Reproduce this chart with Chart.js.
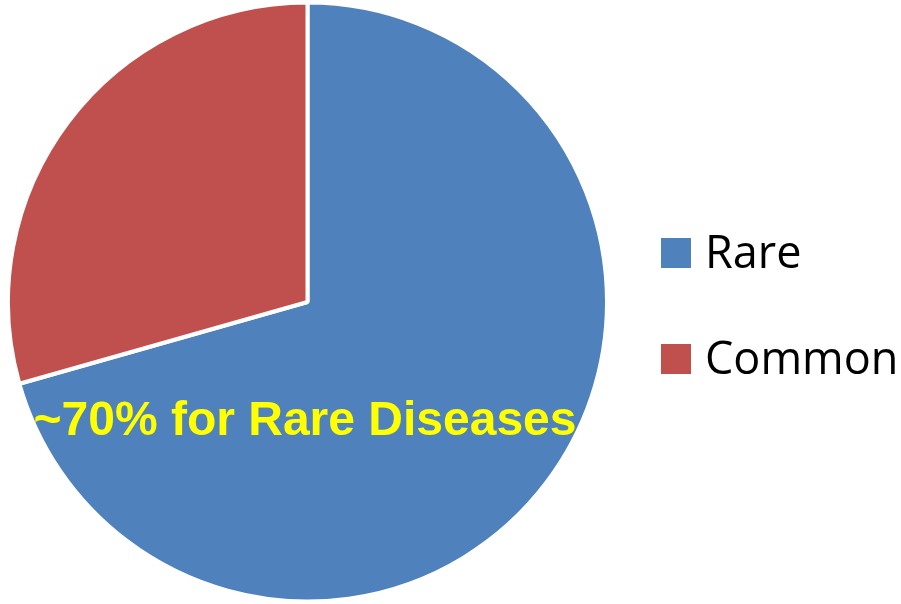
<!DOCTYPE html>
<html>
<head>
<meta charset="utf-8">
<script src="https://cdn.jsdelivr.net/npm/chart.js@4.4.1/dist/chart.umd.min.js"></script>
<style>
  html, body { margin: 0; padding: 0; background: #fff; }
  #wrap { width: 901px; height: 604px; }
</style>
</head>
<body>
<div id="wrap"><canvas id="diseaseChart"></canvas></div>
<script>
const categories = ["Rare", "Common"];
const shares = [70.6, 29.4];
const sliceColors = ["#4F81BD", "#C0504D"];
const note = "~70% for Rare Diseases";

// legend drawn by hand so the spacing matches the original slide
const sideLegend = {
  id: "sideLegend",
  afterDraw(chart) {
    const ctx = chart.ctx;
    ctx.save();
    ctx.font = "45px 'Open Sans'";
    ctx.textBaseline = "alphabetic";
    ctx.textAlign = "left";
    chart.data.labels.forEach((label, i) => {
      const top = 238 + i * 106;
      ctx.fillStyle = chart.data.datasets[0].backgroundColor[i];
      ctx.fillRect(661, top, 30, 30);
      ctx.fillStyle = "#000";
      ctx.fillText(label, 705, top + 30);
    });
    ctx.restore();
  }
};

const noteLabel = {
  id: "noteLabel",
  afterDatasetsDraw(chart) {
    const ctx = chart.ctx;
    ctx.save();
    ctx.font = "bold 48px 'Liberation Sans', Arial";
    ctx.fillStyle = "#FFFF00";
    ctx.textAlign = "center";
    ctx.textBaseline = "alphabetic";
    ctx.fillText(note, 305, 435);
    ctx.restore();
  }
};

const diseaseChart = new Chart(document.getElementById("diseaseChart"), {
  type: "pie",
  data: {
    labels: categories,
    datasets: [
      {
        data: shares,
        backgroundColor: sliceColors,
        borderColor: "#ffffff",
        borderWidth: 4,
      },
    ],
  },
  options: {
    responsive: true,
    maintainAspectRatio: false,
    animation: false,
    layout: { padding: { left: 6, top: 0, right: 292, bottom: 0 } },
    plugins: {
      legend: { display: false },
      tooltip: { enabled: false },
    },
  },
  plugins: [noteLabel, sideLegend],
});
</script>
</body>
</html>
